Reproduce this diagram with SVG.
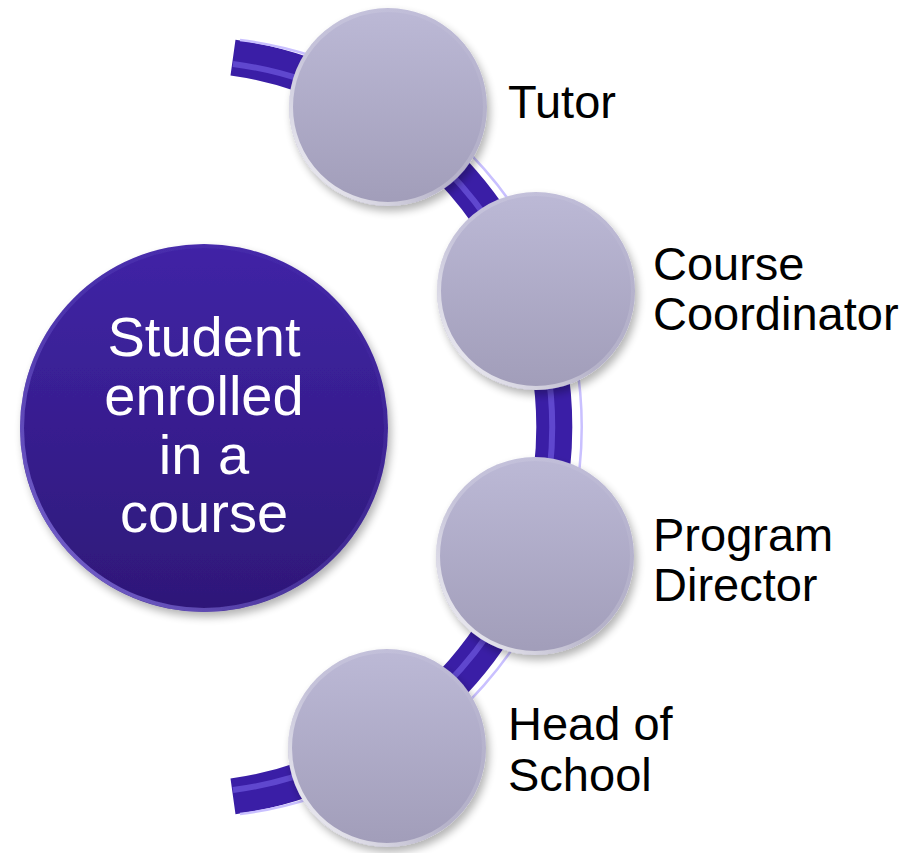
<svg xmlns="http://www.w3.org/2000/svg" width="912" height="853" viewBox="0 0 912 853">
  <defs>
    <linearGradient id="gSmall" x1="0" y1="0" x2="0" y2="1">
      <stop offset="0" stop-color="#bcb9d6"/>
      <stop offset="1" stop-color="#a19db9"/>
    </linearGradient>
    <linearGradient id="gSmallRim" x1="0" y1="1" x2="1" y2="0">
      <stop offset="0" stop-color="#ffffff" stop-opacity="0.95"/>
      <stop offset="0.45" stop-color="#ffffff" stop-opacity="0.2"/>
      <stop offset="1" stop-color="#ffffff" stop-opacity="0"/>
    </linearGradient>
    <linearGradient id="gBig" x1="0" y1="0" x2="0" y2="1">
      <stop offset="0" stop-color="#4024a6"/>
      <stop offset="1" stop-color="#2e1878"/>
    </linearGradient>
    <linearGradient id="gBigRim" x1="0" y1="1" x2="1" y2="0">
      <stop offset="0" stop-color="#8a78e0" stop-opacity="0.95"/>
      <stop offset="0.5" stop-color="#6a55c8" stop-opacity="0.3"/>
      <stop offset="1" stop-color="#6a55c8" stop-opacity="0"/>
    </linearGradient>
    <filter id="shadow" x="-20%" y="-20%" width="150%" height="150%">
      <feGaussianBlur in="SourceAlpha" stdDeviation="4"/>
      <feOffset dx="3" dy="5" result="o"/>
      <feComponentTransfer><feFuncA type="linear" slope="0.3"/></feComponentTransfer>
      <feMerge><feMergeNode/><feMergeNode in="SourceGraphic"/></feMerge>
    </filter>
  </defs>
  <style>
    .small { fill: url(#gSmall); }
    .smallRim { fill: none; stroke: url(#gSmallRim); stroke-width: 4; }
    .label { font-family: "Liberation Sans", Arial, sans-serif; font-size: 47px; fill: #000000; }
    .bigText { font-family: "Liberation Sans", Arial, sans-serif; font-size: 56px; fill: #ffffff; text-anchor: middle; }
    .ribbon { fill: none; stroke: #3a1ea6; stroke-width: 36; stroke-linecap: butt; }
    .ribbonHi { fill: none; stroke: #6f58e0; stroke-width: 6; opacity: 0.7; }
    .ribbonEdge { fill: none; stroke: #c9c0ff; stroke-width: 2.5; }
  </style>

  <g id="connectors">
    <path class="ribbon" d="M 233 57.6 A 373 373 0 0 1 233 796.4"/>
    <path class="ribbonHi" d="M 233 64 A 366 366 0 0 1 233 790"/>
    <path class="ribbonEdge" d="M 240 40 A 390 390 0 0 1 240 814"/>
  </g>

  <g id="node-student" filter="url(#shadow)">
    <circle cx="204" cy="428" r="184" fill="url(#gBig)"/>
    <circle cx="204" cy="428" r="182" fill="none" stroke="url(#gBigRim)" stroke-width="4"/>
    <text class="bigText" x="204" y="356">Student</text>
    <text class="bigText" x="204" y="415">enrolled</text>
    <text class="bigText" x="204" y="474">in a</text>
    <text class="bigText" x="204" y="532">course</text>
  </g>

  <g id="node-tutor">
    <g filter="url(#shadow)">
      <circle class="small" cx="388" cy="107" r="99"/>
      <circle class="smallRim" cx="388" cy="107" r="97"/>
    </g>
    <text class="label" x="508" y="118">Tutor</text>
  </g>

  <g id="node-course-coordinator">
    <g filter="url(#shadow)">
      <circle class="small" cx="536" cy="291" r="99"/>
      <circle class="smallRim" cx="536" cy="291" r="97"/>
    </g>
    <text class="label" x="653" y="280">Course</text>
    <text class="label" x="653" y="330">Coordinator</text>
  </g>

  <g id="node-program-director">
    <g filter="url(#shadow)">
      <circle class="small" cx="535" cy="556" r="99"/>
      <circle class="smallRim" cx="535" cy="556" r="97"/>
    </g>
    <text class="label" x="653" y="551">Program</text>
    <text class="label" x="653" y="601">Director</text>
  </g>

  <g id="node-head-of-school">
    <g filter="url(#shadow)">
      <circle class="small" cx="387" cy="748" r="99"/>
      <circle class="smallRim" cx="387" cy="748" r="97"/>
    </g>
    <text class="label" x="508" y="740">Head of</text>
    <text class="label" x="508" y="791">School</text>
  </g>
</svg>
